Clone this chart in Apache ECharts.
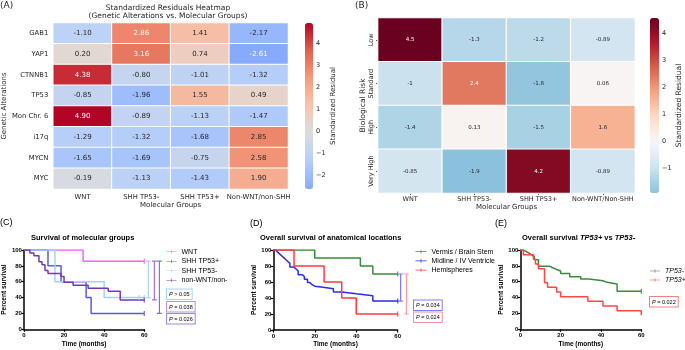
<!DOCTYPE html>
<html><head><meta charset="utf-8">
<script src="https://cdn.jsdelivr.net/npm/echarts@6/dist/echarts.min.js"></script>
<style>html,body{margin:0;padding:0;background:#fff}#c{width:685px;height:350px}</style>
</head><body><div id="c"></div>
<script>
// ---------- data ----------
const groupsA = ['WNT', 'SHH TP53-', 'SHH TP53+', 'Non-WNT/non-SHH'];
const genesA = ['GAB1', 'YAP1', 'CTNNB1', 'TP53', 'Mon Chr. 6', 'i17q', 'MYCN', 'MYC'];
const residualsA = [
  [-1.10, 2.86, 1.41, -2.17],
  [0.20, 3.16, 0.74, -2.61],
  [4.38, -0.80, -1.01, -1.32],
  [-0.85, -1.96, 1.55, 0.49],
  [4.90, -0.89, -1.13, -1.47],
  [-1.29, -1.32, -1.68, 2.85],
  [-1.65, -1.69, -0.75, 2.58],
  [-0.19, -1.13, -1.43, 1.90]
];
const groupsB = ['WNT', 'SHH TP53-', 'SHH TP53+', 'Non-WNT/Non-SHH'];
const risksB = ['Low', 'Standard', 'High', 'Very High'];
const residualsB = [
  [4.5, -1.3, -1.2, -0.89],
  [-1, 2.4, -1.8, 0.06],
  [-1.4, 0.13, -1.5, 1.6],
  [-0.85, -1.9, 4.2, -0.89]
];
const cbTicksA = [-2, -1, 0, 1, 2, 3, 4];
const cbTicksB = [-1, 0, 1, 2, 3, 4];
const rangeA = [-2.61, 4.90];
const rangeB = [-1.9, 4.55];

// Panel C: survival of molecular groups (time in months, percent survival)
const wntT = [0, 29.5], wntS = [100, 85.7], wntCens = [60];
const shhPosT = [0, 12, 18.5, 31, 33.5], shhPosS = [100, 80, 60, 40, 20], shhPosCens = [60];
const shhNegT = [0, 15.5, 40], shhNegS = [100, 60, 40], shhNegCens = [57.5, 60];
const nonT = [0, 3, 5, 7.5, 9, 10.5, 12, 18.5, 20, 24.5, 32, 42, 48];
const nonS = [100, 96.3, 92.6, 85.2, 81.5, 74.1, 70.4, 66.7, 59.3, 55.6, 51.9, 48.1, 37.0];
const nonCens = [60];
const pvalC = ['P > 0.05', 'P = 0.038', 'P = 0.026'];

// Panel D: anatomical locations
const vermT = [0, 20, 42, 48], vermS = [100, 90, 80, 70], vermCens = [60];
const midT = [0, 1, 2, 3, 4, 5, 6, 7, 8, 10, 11, 12, 14, 15, 16.5, 17.5, 18.5, 20, 24, 29, 33, 40, 48];
const midS = [100, 97.6, 95.2, 92.9, 90.5, 88.1, 85.7, 83.3, 78.6, 76.2, 73.8, 69.0, 66.7, 63.3, 59.5, 57.1, 54.8, 53.3, 51.7, 47.6, 45.2, 42.9, 36.3];
const midCens = [60];
const hemiT = [0, 10, 24.5, 33, 40], hemiS = [100, 80, 60, 40, 20], hemiCens = [60];
const pvalD = ['P = 0.034', 'P = 0.024'];

// Panel E: TP53+ vs TP53-
const tpNegT = [0, 1.5, 3, 4.5, 5.5, 7, 9, 14.5, 16, 18, 20, 24.5, 30, 34, 41, 43, 48];
const tpNegS = [100, 98, 95.9, 93.9, 91.8, 87.8, 79.6, 77.6, 75.5, 73.5, 70.4, 66.3, 63.3, 61.2, 59.2, 57.1, 47.9];
const tpNegCens = [60];
const tpPosT = [0, 1.5, 6.5, 7.5, 9, 12, 13.5, 18, 20, 33.5, 41, 48, 60];
const tpPosS = [100, 94.1, 88.2, 82.4, 76.5, 58.8, 52.9, 47.1, 41.2, 35.3, 29.4, 23.5, 17.6];
const pvalE = ['P = 0.022'];

// comparison brackets (months, survival top/bottom)
const bracketsC = [{x: 62, top: 86, bottom: 40}, {x: 65, top: 86, bottom: 37}, {x: 67.5, top: 86, bottom: 20}];
const bracketsD = [{x: 61.4, top: 70, bottom: 36}, {x: 64.2, top: 70, bottom: 20}];

// ---------- helpers ----------
const FM = 'DejaVu Sans';
const FG = 'Liberation Sans';
const COOLWARM = [[59,76,192],[98,130,234],[141,176,254],[184,208,249],[221,220,220],[245,196,172],[244,154,123],[222,96,77],[180,4,38]];
const RDBU_R = [[5,48,97],[33,102,172],[67,147,195],[146,197,222],[209,229,240],[247,247,247],[253,219,199],[244,165,130],[214,96,77],[178,24,43],[103,0,31]];
function lerpStops(st, t) {
  t = Math.max(0, Math.min(1, t));
  const n = st.length - 1, p = t * n, i = Math.min(n - 1, Math.floor(p)), f = p - i;
  return [0, 1, 2].map(k => st[i][k] + (st[i + 1][k] - st[i][k]) * f);
}
function rgb(c) { return 'rgb(' + c.map(Math.round).join(',') + ')'; }
function centeredColors(st, vmin, vmax, n) {
  const r = Math.max(Math.abs(vmin), Math.abs(vmax)), out = [];
  for (let i = 0; i < n; i++) { const v = vmin + (vmax - vmin) * i / (n - 1); out.push(rgb(lerpStops(st, 0.5 + v / (2 * r)))); }
  return out;
}
const minus = v => (v < 0 ? '\u2212' + Math.abs(v) : String(v));

const heatA = [];
genesA.forEach((g, r) => groupsA.forEach((c, ci) => {
  const v = residualsA[r][ci];
  heatA.push({value: [ci, r, v], label: {color: (v > 2.855 || v < -2.5) ? '#ffffff' : '#262626'}});
}));
const heatB = [];
risksB.forEach((g, r) => groupsB.forEach((c, ci) => {
  const v = residualsB[r][ci];
  heatB.push({value: [ci, r, v], label: {color: v > 2 ? '#ffffff' : '#262626'}});
}));

function km(name, t, s, color, ax) {
  const d = t.map((x, i) => [x, s[i]]);
  if (t[t.length - 1] < 60) d.push([60, s[s.length - 1]]);
  return {type: 'line', name, xAxisIndex: ax, yAxisIndex: ax, data: d, step: 'end', symbol: 'none',
    lineStyle: {color, width: 1.5}, itemStyle: {color}, color, z: 3, silent: true};
}
function survAt(t, s, x) { let v = s[0]; for (let i = 0; i < t.length; i++) if (t[i] <= x) v = s[i]; return v; }
function cens(t, s, cs, color, ax) {
  return {type: 'scatter', name: '_c', xAxisIndex: ax, yAxisIndex: ax, data: cs.map(x => [x, survAt(t, s, x)]),
    symbol: 'rect', symbolSize: [1.3, 5], itemStyle: {color}, silent: true, clip: false, z: 4};
}
function bracket(b, color, ax) {
  const w = 1.2;
  return {type: 'line', name: '_b', xAxisIndex: ax, yAxisIndex: ax, symbol: 'none', silent: true,
    data: [[b.x - w, b.top], [b.x + w, b.top], [b.x, b.top], [b.x, b.bottom], [b.x - w, b.bottom], [b.x + w, b.bottom]],
    lineStyle: {color, width: 1.2}};
}
function kmX(ax) {
  return {type: 'value', gridIndex: ax, min: 0, max: 60, interval: 20, name: 'Time (months)', nameLocation: 'middle', nameGap: 11,
    nameTextStyle: {fontFamily: FG, fontWeight: 'bold', fontSize: 6.5, color: '#000'},
    axisLine: {show: true, onZero: false, lineStyle: {color: '#000', width: 1.5}},
    axisTick: {show: true, length: 2.5, lineStyle: {color: '#000', width: 1.2}},
    axisLabel: {fontFamily: FG, fontWeight: 'bold', fontSize: 6, color: '#000', margin: 3},
    splitLine: {show: false}};
}
function kmY(ax, gap) {
  return {type: 'value', gridIndex: ax, min: 0, max: 100, interval: 20, name: 'Percent survival', nameLocation: 'middle', nameGap: gap,
    nameTextStyle: {fontFamily: FG, fontWeight: 'bold', fontSize: 6.5, color: '#000'},
    axisLine: {show: true, onZero: false, lineStyle: {color: '#000', width: 1.5}},
    axisTick: {show: true, length: 2.5, lineStyle: {color: '#000', width: 1.2}},
    axisLabel: {fontFamily: FG, fontWeight: 'bold', fontSize: 6, color: '#000', margin: 2},
    splitLine: {show: false}};
}
const ICON = 'path://M0,4.4H20V5.6H0Z M9.4,1.5H10.6V8.5H9.4Z';
function txt(x, y, text, o) {
  o = o || {};
  return {type: 'text', x, y, silent: true, style: Object.assign({text, fill: o.fill || '#000', fontSize: o.size || 7,
    fontFamily: o.family || FG, fontWeight: o.weight || 'normal', fontStyle: o.style || 'normal',
    align: o.align || 'left', verticalAlign: 'middle', textAlign: o.align || 'left', textVerticalAlign: 'middle'}, o.extra || {})};
}
function pbox(x, y, text, border) {
  const rest = text.slice(1);
  return {type: 'text', x, y, silent: true, style: {text: '{i|P}' + rest, fill: '#000', fontSize: 5.5, fontFamily: FG,
    rich: {i: {fontStyle: 'italic', fontSize: 5.5, fontFamily: FG}},
    borderColor: border, borderWidth: 1, padding: [1.5, 2, 1, 2], lineHeight: 7, backgroundColor: '#fff',
    align: 'left', verticalAlign: 'top', textAlign: 'left', textVerticalAlign: 'top'}};
}

const cC = {wnt: '#FF5CFF', pos: '#5A5AE6', neg: '#A4D2F6', non: '#7A35B8'};
const cD = {verm: '#3A8C3A', mid: '#2B2BF0', hemi: '#FF3B3B'};
const cE = {neg: '#3A8C3A', pos: '#FF4545'};

const series = [
  {type: 'heatmap', xAxisIndex: 0, yAxisIndex: 0, data: heatA,
    label: {show: true, fontSize: 7, fontFamily: FM, formatter: p => p.value[2].toFixed(2)},
    itemStyle: {borderColor: '#ffffff', borderWidth: 1}, emphasis: {disabled: true}},
  {type: 'heatmap', xAxisIndex: 2, yAxisIndex: 2, data: heatB,
    label: {show: true, fontSize: 5.5, fontFamily: FM, formatter: p => String(Number(p.value[2].toPrecision(2)))},
    itemStyle: {borderColor: '#ffffff', borderWidth: 1.2}, emphasis: {disabled: true}},
  km('WNT', wntT, wntS, cC.wnt, 4), km('SHH TP53+', shhPosT, shhPosS, cC.pos, 4),
  km('SHH TP53-', shhNegT, shhNegS, cC.neg, 4), km('non-WNT/non-SHH', nonT, nonS, cC.non, 4),
  cens(wntT, wntS, wntCens, cC.wnt, 4), cens(shhPosT, shhPosS, shhPosCens, cC.pos, 4),
  cens(shhNegT, shhNegS, shhNegCens, cC.neg, 4), cens(nonT, nonS, nonCens, cC.non, 4),
  bracket(bracketsC[0], '#A8D4F5', 7), bracket(bracketsC[1], '#B070D0', 7), bracket(bracketsC[2], '#7575E8', 7),
  km('Vermis / Brain Stem', vermT, vermS, cD.verm, 5), km('Midline / IV Ventricle', midT, midS, cD.mid, 5),
  km('Hemispheres', hemiT, hemiS, cD.hemi, 5),
  cens(vermT, vermS, vermCens, cD.verm, 5), cens(midT, midS, midCens, cD.mid, 5), cens(hemiT, hemiS, hemiCens, cD.hemi, 5),
  bracket(bracketsD[0], '#7B7BFF', 8), bracket(bracketsD[1], '#FF9C9C', 8),
  km('TP53-', tpNegT, tpNegS, cE.neg, 6), km('TP53+', tpPosT, tpPosS, cE.pos, 6),
  cens(tpNegT, tpNegS, tpNegCens, cE.neg, 6)
];

const hiddenX = g => ({type: 'value', gridIndex: g, show: false, min: 0, max: 70});
const hiddenY = g => ({type: 'value', gridIndex: g, show: false, min: 0, max: 100});

const option = {
  animation: false,
  backgroundColor: '#ffffff',
  grid: [
    {left: 47, top: 23, width: 241, height: 166},
    {left: 305, top: 23, width: 8, height: 166},
    {left: 378, top: 18, width: 257, height: 175},
    {left: 650, top: 18, width: 9, height: 175},
    {left: 23.3, top: 250, width: 121, height: 79.3},
    {left: 273.3, top: 250, width: 124.4, height: 80},
    {left: 520.3, top: 250, width: 121, height: 79.3},
    {left: 23.3, top: 250, width: 121 * 70 / 60, height: 79.3},
    {left: 273.3, top: 250, width: 124.4 * 70 / 60, height: 80}
  ],
  xAxis: [
    {type: 'category', gridIndex: 0, data: groupsA, axisLine: {show: false}, axisTick: {show: false},
      axisLabel: {fontFamily: FM, fontSize: 6.8, color: '#262626', margin: 5, interval: 0},
      name: 'Molecular Groups', nameLocation: 'middle', nameGap: 12, nameTextStyle: {fontFamily: FM, fontSize: 7, color: '#262626'}},
    {type: 'value', gridIndex: 1, show: false, min: 0, max: 1},
    {type: 'category', gridIndex: 2, data: groupsB, axisLine: {show: false},
      axisTick: {show: true, length: 2, lineStyle: {color: '#555'}, alignWithLabel: true, interval: 0},
      axisLabel: {fontFamily: FM, fontSize: 6.5, color: '#262626', margin: 3, interval: 0},
      name: 'Molecular Groups', nameLocation: 'middle', nameGap: 11, nameTextStyle: {fontFamily: FM, fontSize: 7, color: '#262626'}},
    {type: 'value', gridIndex: 3, show: false, min: 0, max: 1},
    kmX(4), kmX(5), kmX(6), hiddenX(7), hiddenX(8)
  ],
  yAxis: [
    {type: 'category', gridIndex: 0, data: genesA, inverse: true, axisLine: {show: false}, axisTick: {show: false},
      axisLabel: {fontFamily: FM, fontSize: 6.8, color: '#262626', margin: 5, interval: 0},
      name: 'Genetic Alterations', nameLocation: 'middle', nameGap: 38, nameTextStyle: {fontFamily: FM, fontSize: 7, color: '#262626'}},
    {type: 'value', gridIndex: 1, position: 'right', min: rangeA[0], max: rangeA[1], axisLine: {show: false},
      axisTick: {show: true, length: 2.5, customValues: cbTicksA, lineStyle: {color: '#333'}},
      axisLabel: {customValues: cbTicksA, formatter: minus, fontFamily: FM, fontSize: 6.5, color: '#262626', margin: 3},
      splitLine: {show: false},
      name: 'Standardized Residual', nameLocation: 'middle', nameGap: 14, nameRotate: 90, nameTextStyle: {fontFamily: FM, fontSize: 7, color: '#262626'}},
    {type: 'category', gridIndex: 2, data: risksB, inverse: true, axisLine: {show: false},
      axisTick: {show: true, length: 2, lineStyle: {color: '#555'}, alignWithLabel: true, interval: 0},
      axisLabel: {fontFamily: FM, fontSize: 6.5, color: '#262626', margin: 3, rotate: 90, interval: 0},
      name: 'Biological Risk', nameLocation: 'middle', nameGap: 10, nameTextStyle: {fontFamily: FM, fontSize: 7.5, color: '#262626'}},
    {type: 'value', gridIndex: 3, position: 'right', min: rangeB[0], max: rangeB[1], axisLine: {show: false},
      axisTick: {show: true, length: 2.5, customValues: cbTicksB, lineStyle: {color: '#333'}},
      axisLabel: {customValues: cbTicksB, formatter: minus, fontFamily: FM, fontSize: 6.5, color: '#262626', margin: 3},
      splitLine: {show: false},
      name: 'Standardized Residual', nameLocation: 'middle', nameGap: 14, nameRotate: 90, nameTextStyle: {fontFamily: FM, fontSize: 7.5, color: '#262626'}},
    kmY(4, 14), kmY(5, 15), kmY(6, 14), hiddenY(7), hiddenY(8)
  ],
  visualMap: [
    {type: 'continuous', seriesIndex: 0, min: rangeA[0], max: rangeA[1], calculable: false, hoverLink: false,
      orient: 'vertical', left: 305, top: 23, itemWidth: 8, itemHeight: 166, padding: 0,
      inRange: {color: centeredColors(COOLWARM, rangeA[0], rangeA[1], 40)}},
    {type: 'continuous', seriesIndex: 1, min: rangeB[0], max: rangeB[1], calculable: false, hoverLink: false,
      orient: 'vertical', left: 650, top: 18, itemWidth: 9, itemHeight: 175, padding: 0,
      inRange: {color: centeredColors(RDBU_R, rangeB[0], rangeB[1], 40)}}
  ],
  legend: [
    {data: ['WNT', 'SHH TP53+', 'SHH TP53-', 'non-WNT/non-SHH'], left: 166.5, top: 248.2, orient: 'vertical', padding: 0,
      itemWidth: 10, itemHeight: 5, itemGap: 2.5, icon: ICON, selectedMode: false,
      textStyle: {fontSize: 7, lineHeight: 7, fontFamily: FG, color: '#000', width: 50, overflow: 'truncate', ellipsis: ''}},
    {data: ['Vermis / Brain Stem', 'Midline / IV Ventricle', 'Hemispheres'], left: 415.5, top: 248.2, orient: 'vertical', padding: 0,
      itemWidth: 11, itemHeight: 5.5, itemGap: 2.2, icon: ICON, selectedMode: false,
      textStyle: {fontSize: 7, lineHeight: 7, fontFamily: FG, color: '#000'}},
    {data: ['TP53-', 'TP53+'], left: 650, top: 267.5, orient: 'vertical', padding: 0,
      itemWidth: 10, itemHeight: 5, itemGap: 2, icon: ICON, selectedMode: false,
      textStyle: {fontSize: 7, lineHeight: 7, fontFamily: FG, fontStyle: 'italic', color: '#000'}}
  ],
  graphic: {elements: [
    txt(0, 6, '(A)', {size: 9, family: FM, fill: '#262626'}),
    txt(168, 8, 'Standardized Residuals Heatmap', {size: 7.5, family: FM, fill: '#262626', align: 'center'}),
    txt(168, 16, '(Genetic Alterations vs. Molecular Groups)', {size: 7.5, family: FM, fill: '#262626', align: 'center'}),
    txt(355, 6, '(B)', {size: 9, family: FM, fill: '#262626'}),
    txt(0, 223, '(C)', {size: 9}),
    txt(31, 238, 'Survival of molecular groups', {size: 7.5, weight: 'bold'}),
    txt(250, 224, '(D)', {size: 9}),
    txt(260, 238, 'Overall survival of anatomical locations', {size: 7.5, weight: 'bold'}),
    txt(495, 224, '(E)', {size: 9}),
    txt(522, 238, '', {extra: {text: '{b|Overall survival }{bi|TP53+}{b| vs }{bi|TP53-}',
      rich: {b: {fontWeight: 'bold', fontSize: 7.5, fontFamily: FG}, bi: {fontWeight: 'bold', fontStyle: 'italic', fontSize: 7.5, fontFamily: FG}}}}),
    pbox(167, 289.5, pvalC[0], '#A8D4F5'),
    pbox(167, 302, pvalC[1], '#C090D8'),
    pbox(167, 314, pvalC[2], '#8E8EEA'),
    pbox(414, 300.5, pvalD[0], '#8080F5'),
    pbox(414, 312.5, pvalD[1], '#F79090'),
    pbox(650, 297, pvalE[0], '#F58080')
  ]},
  series
};
const chart = echarts.init(document.getElementById('c'), null, {renderer: 'canvas'});
chart.setOption(option);
</script>
</body></html>
